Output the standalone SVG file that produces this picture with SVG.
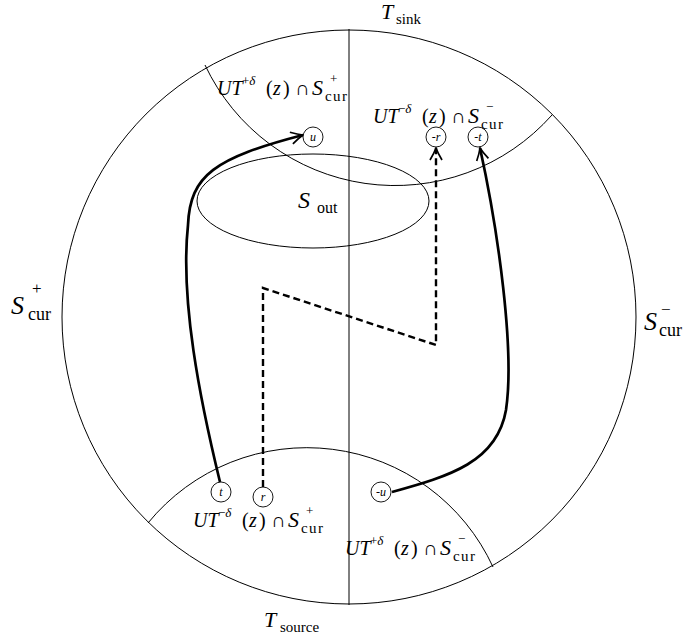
<svg xmlns="http://www.w3.org/2000/svg" width="689" height="639" viewBox="0 0 689 639">
<style>
.thin{fill:none;stroke:#000;stroke-width:1}
.thick{fill:none;stroke:#000;stroke-width:2.7}
.dash{fill:none;stroke:#000;stroke-width:2.4;stroke-dasharray:7 4}
.nd circle{fill:#fff;stroke:#000;stroke-width:0.9}
.nd text{font-family:"Liberation Serif","DejaVu Serif",serif;font-style:italic;font-size:12px;text-anchor:middle}
text{font-family:"Liberation Serif","DejaVu Serif",serif;fill:#000}
.i{font-style:italic}
.b{font-size:20px}
.s{font-size:13px}
.c{font-size:15px;letter-spacing:1.4px}
.S{font-size:22px;font-style:italic}
</style>
<defs>
<marker id="ar" viewBox="-14 -8 16 16" refX="0" refY="0" markerWidth="16" markerHeight="16" markerUnits="userSpaceOnUse" orient="auto">
<path d="M -12 -6 Q -5 -1.8 0 0 Q -5 1.8 -12 6" fill="none" stroke="#000" stroke-width="1.7"/>
</marker>
</defs>
<g id="frame">
<circle class="thin" cx="349" cy="317" r="287"/>
<line class="thin" x1="349" y1="29" x2="349" y2="605"/>
<path class="thin" d="M 205 65 A 210 210 0 0 0 552 115"/>
<path class="thin" d="M 148 523 A 205 205 0 0 1 493 567"/>
<ellipse id="Sout" class="thin" cx="313" cy="201" rx="116" ry="47"/>
</g>
<g id="connectors">
<path class="thick" d="M 220 482 C 200 400, 180 300, 188 225 C 190 175, 215 158, 303 135" marker-end="url(#ar)"/>
<path class="dash" d="M 263 487 L 263 288 L 436 345 L 436 148" marker-end="url(#ar)"/>
<path class="thick" d="M 392 492 C 450 476, 497 462, 506 410 C 515 350, 498 230, 480 148" marker-end="url(#ar)"/>
</g>
<g id="node-u" class="nd"><circle cx="313" cy="137" r="10"/><text x="313" y="141">u</text></g>
<g id="node-mr" class="nd"><circle cx="436" cy="137" r="10"/><text x="436" y="141">-r</text></g>
<g id="node-mt" class="nd"><circle cx="478" cy="137" r="10"/><text x="478" y="141">-t</text></g>
<g id="node-t" class="nd"><circle cx="221" cy="492" r="10"/><text x="221" y="496">t</text></g>
<g id="node-r" class="nd"><circle cx="263" cy="497" r="10"/><text x="263" y="501">r</text></g>
<g id="node-mu" class="nd"><circle cx="381" cy="492" r="10"/><text x="381" y="496">-u</text></g>
<g id="labels">
<text><tspan class="i" x="381" y="19" font-size="22">T</tspan><tspan x="396" y="24" font-size="15">sink</tspan></text>
<text><tspan class="i" x="264" y="627" font-size="22">T</tspan><tspan x="280" y="632" font-size="15">source</tspan></text>
<text><tspan class="i" x="298" y="208" font-size="24">S</tspan><tspan x="317" y="213" font-size="16">out</tspan></text>
<text><tspan class="i" x="11" y="314" font-size="26">S</tspan><tspan x="32" y="294" font-size="17">+</tspan><tspan x="28" y="320" font-size="18">cur</tspan></text>
<text><tspan class="i" x="644" y="330" font-size="26">S</tspan><tspan x="661" y="315" font-size="17">−</tspan><tspan x="659" y="336" font-size="18">cur</tspan></text>
<text class="b"><tspan class="i" x="217" y="95">UT</tspan><tspan class="s" x="242" y="85">+<tspan class="i">δ</tspan></tspan><tspan x="266" y="95">(</tspan><tspan class="i" x="273" y="95">z</tspan><tspan x="283" y="95">)</tspan><tspan x="295" y="95">∩</tspan><tspan class="S" x="312" y="95">S</tspan><tspan class="s" x="330" y="83">+</tspan><tspan class="c" x="325" y="101">cur</tspan></text>
<text class="b"><tspan class="i" x="373" y="123">UT</tspan><tspan class="s" x="398" y="113">−<tspan class="i">δ</tspan></tspan><tspan x="422" y="123">(</tspan><tspan class="i" x="429" y="123">z</tspan><tspan x="439" y="123">)</tspan><tspan x="451" y="123">∩</tspan><tspan class="S" x="468" y="123">S</tspan><tspan class="s" x="486" y="111">−</tspan><tspan class="c" x="481" y="129">cur</tspan></text>
<text class="b"><tspan class="i" x="193" y="527">UT</tspan><tspan class="s" x="218" y="517">−<tspan class="i">δ</tspan></tspan><tspan x="242" y="527">(</tspan><tspan class="i" x="249" y="527">z</tspan><tspan x="259" y="527">)</tspan><tspan x="271" y="527">∩</tspan><tspan class="S" x="288" y="527">S</tspan><tspan class="s" x="306" y="515">+</tspan><tspan class="c" x="301" y="533">cur</tspan></text>
<text class="b"><tspan class="i" x="345" y="555">UT</tspan><tspan class="s" x="370" y="545">+<tspan class="i">δ</tspan></tspan><tspan x="394" y="555">(</tspan><tspan class="i" x="401" y="555">z</tspan><tspan x="411" y="555">)</tspan><tspan x="423" y="555">∩</tspan><tspan class="S" x="440" y="555">S</tspan><tspan class="s" x="458" y="543">−</tspan><tspan class="c" x="453" y="561">cur</tspan></text>
</g>
</svg>
